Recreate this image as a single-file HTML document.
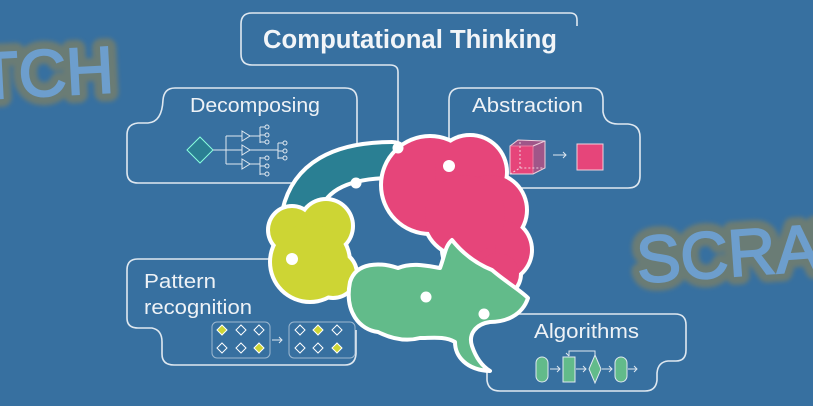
<!DOCTYPE html>
<html><head><meta charset="utf-8"><style>
html,body{margin:0;padding:0;background:#3770a0;}
svg{display:block}
text{font-family:"Liberation Sans",sans-serif}
</style></head><body>
<svg width="813" height="406" viewBox="0 0 813 406" xmlns="http://www.w3.org/2000/svg">
<rect width="813" height="406" fill="#3770a0"/>
<defs><filter id="bl"><feGaussianBlur stdDeviation="2"/></filter></defs>
<g font-family="Liberation Mono, monospace" font-size="66">
<text x="-22" y="96" fill="#6b7c74" stroke="#6b7c74" stroke-width="18" stroke-linejoin="round" filter="url(#bl)" transform="rotate(-3 40 70)">TCH</text>
<text x="-22" y="96" fill="#6d9ecd" stroke="#6d9ecd" stroke-width="2" transform="rotate(-3 40 70)">TCH</text>
<text x="636" y="277" fill="#6b7c74" stroke="#6b7c74" stroke-width="18" stroke-linejoin="round" filter="url(#bl)" transform="rotate(-4 720 250)">SCRAT</text>
<text x="636" y="277" fill="#6d9ecd" stroke="#6d9ecd" stroke-width="2" transform="rotate(-4 720 250)">SCRAT</text>
</g>
<g fill="none" stroke="#dfe8f0" stroke-width="1.6">
<path d="M398,148 L398,72 Q398,65 390,65 L252,65 Q241,65 241,54 L241,24 Q241,13 252,13 L570,13 Q577,13 577,20 L577,26"/>
<path d="M357,183 L357,100 Q357,88 345,88 L175,88 Q164,88 163,100 Q162,122 148,123 L138,123 Q127,124 127,135 L127,172 Q127,183 138,183 L295,183"/>
<path d="M449,166 L449,100 Q449,88 461,88 L592,88 Q603,88 603,100 L603,112 Q605,124 618,124 L628,124 Q640,125 640,137 L640,176 Q640,188 628,188 L520,188"/>
<path d="M292,259 L138,259 Q127,259 127,270 L127,318 Q127,328 138,328 L152,328 Q162,330 162,342 L162,354 Q162,365 174,365 L245,365 L345,365 Q355,365 356,354 L356,330"/>
<path d="M484,314 L675,314 Q686,314 686,325 L686,350 Q686,361 676,361 L668,361 Q658,362 657,373 L657,380 Q656,391 645,391 L500,391 Q488,391 487,380 L487,368"/>
</g>
<text x="263" y="48" fill="#f2f5f8" font-size="25.5" font-weight="bold" textLength="294" lengthAdjust="spacingAndGlyphs">Computational Thinking</text>
<text x="190" y="112" fill="#eef2f6" font-size="20" textLength="130" lengthAdjust="spacingAndGlyphs">Decomposing</text>
<text x="472" y="112" fill="#eef2f6" font-size="20" textLength="111" lengthAdjust="spacingAndGlyphs">Abstraction</text>
<text x="144" y="288" fill="#eef2f6" font-size="20" textLength="72" lengthAdjust="spacingAndGlyphs">Pattern</text>
<text x="144" y="314" fill="#eef2f6" font-size="20" textLength="108" lengthAdjust="spacingAndGlyphs">recognition</text>
<text x="534" y="338" fill="#eef2f6" font-size="20" textLength="105" lengthAdjust="spacingAndGlyphs">Algorithms</text>
<g stroke="#dfe8f0" stroke-width="1" fill="none">
<path d="M200,137 L213,150 L200,163 L187,150 Z" fill="#2a7f93" stroke="#8fd"/>
<path d="M213,150 L226,150 M226,136 L226,164 M226,136 L242,136 M226,150 L242,150 M226,164 L242,164"/>
<path d="M242,131 L250,136 L242,141 Z M242,145 L250,150 L242,155 Z M242,159 L250,164 L242,169 Z"/>
<path d="M250,136 L260,136 M260,127 L260,143 M260,127 L265,127 M260,135 L265,135 M260,142 L265,142"/>
<path d="M250,150 L278,150 M278,143 L278,159 M278,143 L283,143 M278,151 L283,151 M278,158 L283,158"/>
<path d="M250,164 L260,164 M260,157 L260,175 M260,158 L265,158 M260,166 L265,166 M260,174 L265,174"/>
<circle cx="267" cy="127" r="2"/><circle cx="267" cy="135" r="2"/><circle cx="267" cy="142" r="2"/>
<circle cx="285" cy="143" r="2"/><circle cx="285" cy="151" r="2"/><circle cx="285" cy="158" r="2"/>
<circle cx="267" cy="158" r="2"/><circle cx="267" cy="166" r="2"/><circle cx="267" cy="174" r="2"/>
</g>
<g stroke="#f0d0dc" stroke-width="1">
<path d="M510,146 L533,146 L533,174 L510,174 Z" fill="#e6457a"/>
<path d="M510,146 L518,140 L545,141 L545,168 L533,174 M533,146 L545,141" fill="#e6457a" fill-opacity="0.6"/>
<path d="M510,174 L520,168 L545,168 M520,168 L520,141" fill="none" stroke-dasharray="2,2"/>
<path d="M553,155 L566,155 M563,152 L566,155 L563,158" fill="none" stroke="#dfe8f0"/>
<rect x="577" y="144" width="26" height="26" fill="#e6457a"/>
</g>
<g stroke="#dfe8f0" stroke-width="1" fill="none">
<rect x="212" y="322" width="58" height="36" rx="5" opacity="0.6"/>
<rect x="289" y="322" width="66" height="36" rx="5" opacity="0.6"/>
<path d="M272,340 L282,340 M279,337 L282,340 L279,343"/>
<g stroke="#fff">
<path d="M222,325 l5,5 -5,5 -5,-5z" fill="#cdd534"/><path d="M241,325 l5,5 -5,5 -5,-5z"/><path d="M259,325 l5,5 -5,5 -5,-5z"/>
<path d="M222,343 l5,5 -5,5 -5,-5z"/><path d="M241,343 l5,5 -5,5 -5,-5z"/><path d="M259,343 l5,5 -5,5 -5,-5z" fill="#cdd534"/>
<path d="M300,325 l5,5 -5,5 -5,-5z"/><path d="M318,325 l5,5 -5,5 -5,-5z" fill="#cdd534"/><path d="M337,325 l5,5 -5,5 -5,-5z"/>
<path d="M300,343 l5,5 -5,5 -5,-5z"/><path d="M318,343 l5,5 -5,5 -5,-5z"/><path d="M337,343 l5,5 -5,5 -5,-5z" fill="#cdd534"/>
</g>
</g>
<g stroke="#dfe8f0" stroke-width="1">
<rect x="536" y="357" width="12" height="25" rx="6" fill="#62bb8a"/>
<rect x="563" y="357" width="12" height="25" fill="#62bb8a"/>
<path d="M595,355 L601,369 L595,383 L589,369 Z" fill="#62bb8a"/>
<rect x="615" y="357" width="12" height="25" rx="6" fill="#62bb8a"/>
<path d="M550,369 L560,369 M557,366 L560,369 L557,372 M576,369 L586,369 M583,366 L586,369 L583,372 M602,369 L612,369 M609,366 L612,369 L609,372 M628,369 L637,369 M634,366 L637,369 L634,372 M595,355 L595,351 L569,351 L569,356 M566,353 L569,356" fill="none"/>
</g>
<!-- brain: teal -->
<path d="M300,214 Q312,160 392,160" fill="none" stroke="#fff" stroke-width="40" stroke-linecap="round"/>
<path d="M300,214 Q312,160 392,160" fill="none" stroke="#2a7f93" stroke-width="32" stroke-linecap="round"/>
<!-- yellow -->
<g fill="#fff">
<circle cx="292" cy="230" r="26"/><circle cx="326" cy="226" r="29"/><circle cx="310" cy="262" r="42"/><circle cx="333" cy="274" r="26"/>
</g>
<g fill="#cdd534">
<circle cx="292" cy="230" r="22"/><circle cx="326" cy="226" r="25"/><circle cx="310" cy="262" r="38"/><circle cx="333" cy="274" r="22"/>
</g>
<!-- pink -->
<g fill="#fff">
<circle cx="430" cy="185" r="51"/><circle cx="470" cy="172" r="39"/><circle cx="490" cy="210" r="39"/><circle cx="500" cy="250" r="34"/><circle cx="470" cy="250" r="30"/><circle cx="465" cy="215" r="44"/><circle cx="498" cy="274" r="25"/>
</g>
<g fill="#e6457a">
<circle cx="430" cy="185" r="47"/><circle cx="470" cy="172" r="35"/><circle cx="490" cy="210" r="35"/><circle cx="500" cy="250" r="30"/><circle cx="470" cy="250" r="26"/><circle cx="465" cy="215" r="40"/><circle cx="498" cy="274" r="21"/>
</g>
<!-- green -->
<path d="M350,282 C356,262 380,262 398,268 C412,262 428,266 440,268 C445,255 445,246 452,240 C460,250 472,262 492,270 C506,282 520,290 528,298 C522,316 505,322 490,322 C476,324 468,334 472,346 C476,358 482,366 490,371 C466,370 455,356 455,342 C445,336 432,338 420,338 C405,342 390,338 378,332 C360,330 344,312 350,282 Z" fill="#62bb8a" stroke="#fff" stroke-width="4" stroke-linejoin="round"/>
<g fill="#fff">
<circle cx="356" cy="183" r="5.5"/><circle cx="398" cy="148" r="5.5"/><circle cx="449" cy="166" r="6"/>
<circle cx="292" cy="259" r="6"/><circle cx="426" cy="297" r="5.5"/><circle cx="484" cy="314" r="5.5"/>
</g>
</svg>
</body></html>
